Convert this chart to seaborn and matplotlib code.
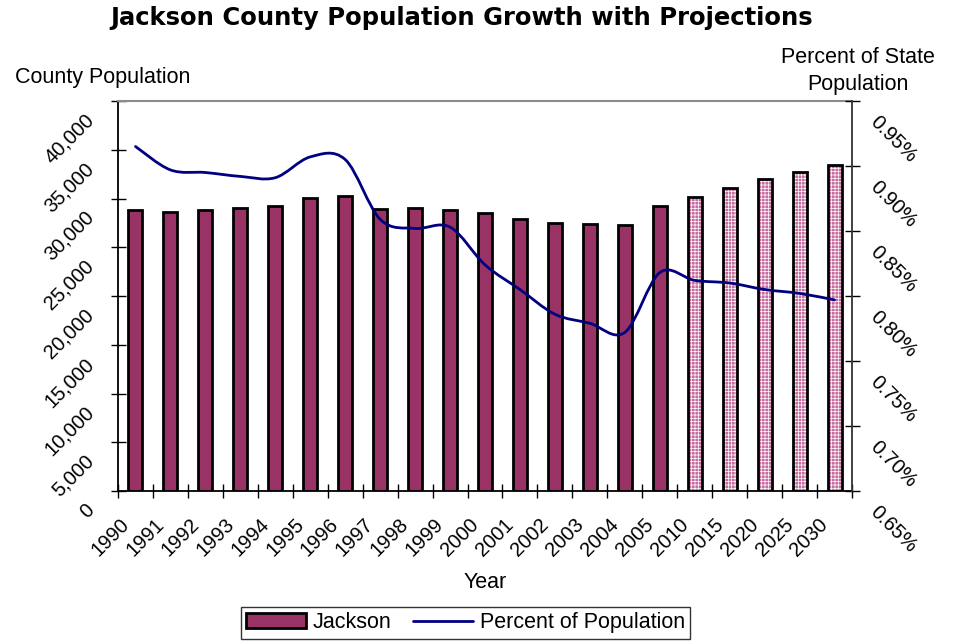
import numpy as np
import pandas as pd
import matplotlib
matplotlib.use("Agg")
import matplotlib.pyplot as plt
import seaborn as sns
from matplotlib.path import Path
from matplotlib.patches import PathPatch, Patch
from matplotlib.lines import Line2D
from matplotlib.transforms import ScaledTranslation

# ---------------- data ----------------
years = ["1990", "1991", "1992", "1993", "1994", "1995", "1996", "1997", "1998",
         "1999", "2000", "2001", "2002", "2003", "2004", "2005", "2010", "2015",
         "2020", "2025", "2030"]
population = [28820, 28580, 28820, 29060, 29230, 30020, 30220, 28920, 28990,
              28820, 28480, 27900, 27450, 27350, 27250, 29260, 30150, 31080,
              32000, 32720, 33430]
pct_of_state = [0.915, 0.897, 0.895, 0.892, 0.891, 0.907, 0.905, 0.859, 0.852,
                0.853, 0.824, 0.805, 0.786, 0.779, 0.772, 0.818, 0.812, 0.810,
                0.805, 0.802, 0.797]
is_projection = [False] * 16 + [True] * 5
pop_ticks = [0, 5000, 10000, 15000, 20000, 25000, 30000, 35000, 40000]
pct_ticks = [0.65, 0.70, 0.75, 0.80, 0.85, 0.90, 0.95]

df = pd.DataFrame({"Year": years, "Population": population,
                   "Pct": pct_of_state, "Projection": is_projection})

# ---------------- style ----------------
sns.set_style("white")
plt.rcParams["font.family"] = ["Liberation Sans", "DejaVu Sans"]
plt.rcParams["hatch.linewidth"] = 0.5
for key in ["text.color", "axes.labelcolor", "xtick.color", "ytick.color"]:
    plt.rcParams[key] = "black"

BAR = "#993366"
PROJ = "#c76ca0"
LINE = "#000080"

W, H = 955, 641
fig = plt.figure(figsize=(W / 100, H / 100), dpi=100)
L, R, T, B = 118, 852, 101, 491
ax = fig.add_axes([L / W, 1 - B / H, (R - L) / W, (B - T) / H])

# bars (fill layer)
palette = [PROJ if p else BAR for p in is_projection]
sns.barplot(data=df, x="Year", y="Population", hue="Year", palette=palette,
            order=years, hue_order=years, legend=False, width=0.4,
            errorbar=None, linewidth=0, edgecolor="white", saturation=1, ax=ax)
for patch, proj in zip(ax.patches, is_projection):
    if proj:
        patch.set_hatch("+++++")
        patch.set_edgecolor("white")
        patch.set_linewidth(0)
# bars (outline layer)
sns.barplot(data=df, x="Year", y="Population", order=years, color="black",
            fill=False, width=0.4, errorbar=None, linewidth=2.0, ax=ax)

ax.set_xlim(-0.5, len(years) - 0.5)
ax.set_ylim(pop_ticks[0], pop_ticks[-1])
ax.set_xlabel("")
ax.set_ylabel("")

# x ticks: marks at boundaries (minor), labels (major, no mark)
ax.set_xticks(np.arange(len(years) + 1) - 0.5, minor=True)
ax.set_xticks(np.arange(len(years)) - 0.27)
ax.set_xticklabels(years, rotation=45, ha="right", va="center",
                   rotation_mode="anchor", fontsize=14.5, color="black")
ax.tick_params(axis="x", which="major", length=0, pad=22)
ax.tick_params(axis="x", which="minor", direction="inout", length=9.5,
               width=1.0, color="black", bottom=True)

ax.set_yticks(pop_ticks)
ax.set_yticklabels([])
ax.tick_params(axis="y", direction="inout", length=10.8, width=1.0,
               color="black", left=True)

off_l = ScaledTranslation(-27 / 100, -16 / 100, fig.dpi_scale_trans)
for v in pop_ticks:
    ax.text(0, v, f"{v:,}", transform=ax.get_yaxis_transform() + off_l,
            rotation=45, rotation_mode="anchor", ha="right", va="center",
            fontsize=14.5, color="black", clip_on=False)

for side in ["left", "bottom"]:
    ax.spines[side].set_color("black")
    ax.spines[side].set_linewidth(1.3)
ax.spines["top"].set_color("#8c8c8c")
ax.spines["top"].set_linewidth(1.5)
ax.spines["right"].set_visible(False)

# secondary axis with smoothed line
ax2 = ax.twinx()
ax2.set_ylim(pct_ticks[0], pct_ticks[-1])
ax2.set_yticks(pct_ticks)
ax2.set_yticklabels([])
ax2.tick_params(axis="y", direction="inout", length=10.8, width=1.0,
                color="black", right=True)
ax2.spines["right"].set_color("#333333")
ax2.spines["right"].set_linewidth(1.3)
for side in ["left", "top", "bottom"]:
    ax2.spines[side].set_visible(False)

xs = np.arange(len(years), dtype=float)
ys = np.array(pct_of_state, dtype=float)
pts = np.column_stack([xs, ys])
n = len(pts)
verts = [pts[0]]
codes = [Path.MOVETO]
for i in range(n - 1):
    p0 = pts[max(i - 1, 0)]
    p1 = pts[i]
    p2 = pts[i + 1]
    p3 = pts[min(i + 2, n - 1)]
    c1 = p1 + (p2 - p0) / 6.0
    c2 = p2 - (p3 - p1) / 6.0
    verts += [c1, c2, p2]
    codes += [Path.CURVE4] * 3
ax2.add_patch(PathPatch(Path(verts, codes), facecolor="none",
                        edgecolor=LINE, linewidth=2.0, capstyle="round"))

off_r = ScaledTranslation(21 / 100, -18 / 100, fig.dpi_scale_trans)
for p in pct_ticks:
    ax2.text(1, p, f"{p:.2f}%", transform=ax2.get_yaxis_transform() + off_r,
             rotation=-45, rotation_mode="anchor", ha="left", va="center",
             fontsize=14.5, color="black", clip_on=False)

# titles and labels
fig.text(462 / W, 1 - 18 / H, "Jackson County Population Growth with Projections",
         ha="center", va="center", fontsize=17.5, fontweight="bold",
         family=["DejaVu Sans"], color="black")
fig.text(103 / W, 1 - 78 / H, "County Population", ha="center", va="center",
         fontsize=15.5, color="black")
fig.text(858 / W, 1 - 71 / H, "Percent of State\nPopulation", ha="center",
         va="center", fontsize=15.5, linespacing=1.35, color="black")
fig.text(485 / W, 1 - 582 / H, "Year", ha="center", va="center", fontsize=15.5,
         color="black")

# legend
handles = [Patch(facecolor=BAR, edgecolor="black", linewidth=2.0, label="Jackson"),
           Line2D([0], [0], color=LINE, linewidth=2.0, label="Percent of Population")]
leg = fig.legend(handles=handles, loc="upper center",
                 bbox_to_anchor=(465.5 / W, 1 - 607 / H), ncol=2, frameon=True,
                 fancybox=False, edgecolor="black", fontsize=15.5,
                 handlelength=2.8, handleheight=0.7, handletextpad=0.3,
                 columnspacing=1.0, borderpad=0.25, borderaxespad=0)
leg.get_frame().set_linewidth(1.0)
for t in leg.get_texts():
    t.set_color("black")

fig.savefig("out.png", dpi=100)
